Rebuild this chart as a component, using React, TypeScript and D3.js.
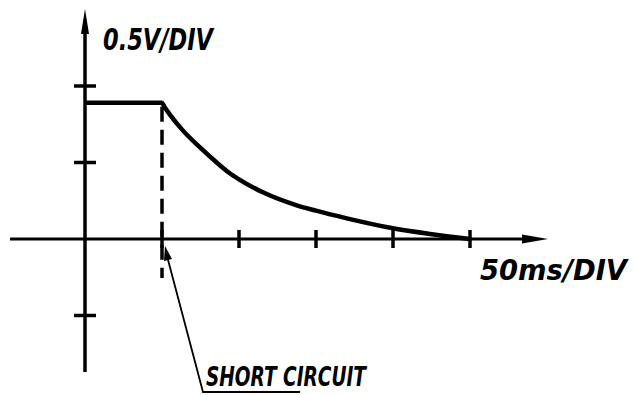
import React, { useEffect, useRef } from 'react';
import * as d3 from 'd3';

// time in ms (50 ms / div), voltage in V (0.5 V / div)
const timeMs = [0, 50, 51.5, 55, 63.5, 74.5, 85.5, 94, 100, 115.5, 137.5, 150, 170, 200, 224, 250];
const volts = [0.89, 0.89, 0.865, 0.815, 0.71, 0.6, 0.5, 0.43, 0.39, 0.305, 0.22, 0.185, 0.135, 0.07, 0.033, 0];
const xTicks = [50, 100, 150, 200, 250];
const yTicks = [-0.5, 0.5, 1.0];
const shortCircuitMs = 50;
const yLabel = '0.5V/DIV';
const xLabel = '50ms/DIV';
const noteLabel = 'SHORT CIRCUIT';

export default function App() {
  const ref = useRef<SVGSVGElement>(null);

  useEffect(() => {
    const svg = d3.select(ref.current);
    svg.selectAll('*').remove();

    const x = d3.scaleLinear().domain([0, 250]).range([85, 470]);
    const y = d3.scaleLinear().domain([0, 1]).range([239, 86]);
    const ink = '#000';

    // axes
    svg.append('line')
      .attr('x1', 10).attr('x2', 530)
      .attr('y1', y(0)).attr('y2', y(0))
      .attr('stroke', ink).attr('stroke-width', 3);
    svg.append('path')
      .attr('d', `M548,${y(0)} L522,${y(0) - 4.5} L522,${y(0) + 4.5} Z`)
      .attr('fill', ink);

    svg.append('line')
      .attr('x1', x(0)).attr('x2', x(0))
      .attr('y1', 30).attr('y2', 372)
      .attr('stroke', ink).attr('stroke-width', 3.5);
    svg.append('path')
      .attr('d', `M${x(0)},9 L${x(0) - 4},34 L${x(0) + 4},34 Z`)
      .attr('fill', ink);

    // ticks
    svg.selectAll('.xtick')
      .data(xTicks)
      .join('line')
      .attr('class', 'xtick')
      .attr('x1', d => x(d)).attr('x2', d => x(d))
      .attr('y1', y(0) - 9).attr('y2', y(0) + 9)
      .attr('stroke', ink).attr('stroke-width', 3.5);

    svg.selectAll('.ytick')
      .data(yTicks)
      .join('line')
      .attr('class', 'ytick')
      .attr('x1', x(0) - 11).attr('x2', x(0) + 11)
      .attr('y1', d => y(d)).attr('y2', d => y(d))
      .attr('stroke', ink).attr('stroke-width', 3.5);

    // dashed marker at the short circuit
    svg.append('line')
      .attr('x1', x(shortCircuitMs)).attr('x2', x(shortCircuitMs))
      .attr('y1', y(volts[0]) + 4).attr('y2', 278)
      .attr('stroke', ink).attr('stroke-width', 3.5)
      .attr('stroke-dasharray', '15,8');

    // signal
    const line = d3.line<number>()
      .x((_, i) => x(timeMs[i]))
      .y(d => y(d))
      .curve(d3.curveMonotoneX);

    svg.append('path')
      .datum(volts)
      .attr('d', line)
      .attr('fill', 'none')
      .attr('stroke', ink)
      .attr('stroke-width', 4.5)
      .attr('stroke-linejoin', 'round');

    // leader line + arrowhead
    const tipX = x(shortCircuitMs) + 3;
    const tipY = y(0) + 7;
    svg.append('path')
      .attr('d', `M${tipX},${tipY} L${tipX - 1},${tipY + 15} L${tipX + 7},${tipY + 13} Z`)
      .attr('fill', ink);
    svg.append('path')
      .attr('d', `M${tipX + 2},${tipY + 10} L203,392 L300,392`)
      .attr('fill', 'none')
      .attr('stroke', ink)
      .attr('stroke-width', 1.8);

    // labels
    const font = "'DejaVu Sans Condensed', 'DejaVu Sans', sans-serif";
    svg.append('text')
      .attr('x', 103).attr('y', 50)
      .attr('font-family', font).attr('font-style', 'italic').attr('font-weight', 'bold')
      .attr('font-size', 30)
      .attr('textLength', 110).attr('lengthAdjust', 'spacingAndGlyphs')
      .text(yLabel);
    svg.append('text')
      .attr('x', 480).attr('y', 280)
      .attr('font-family', font).attr('font-style', 'italic').attr('font-weight', 'bold')
      .attr('font-size', 29)
      .attr('textLength', 147).attr('lengthAdjust', 'spacingAndGlyphs')
      .text(xLabel);
    svg.append('text')
      .attr('x', 206).attr('y', 386)
      .attr('font-family', font).attr('font-style', 'italic').attr('font-weight', 'bold')
      .attr('font-size', 27)
      .attr('textLength', 160).attr('lengthAdjust', 'spacingAndGlyphs')
      .text(noteLabel);
  }, []);

  return (
    <svg
      ref={ref}
      width={634}
      height={395}
      style={{ position: 'absolute', left: 0, top: 0, background: '#fff' }}
    />
  );
}
